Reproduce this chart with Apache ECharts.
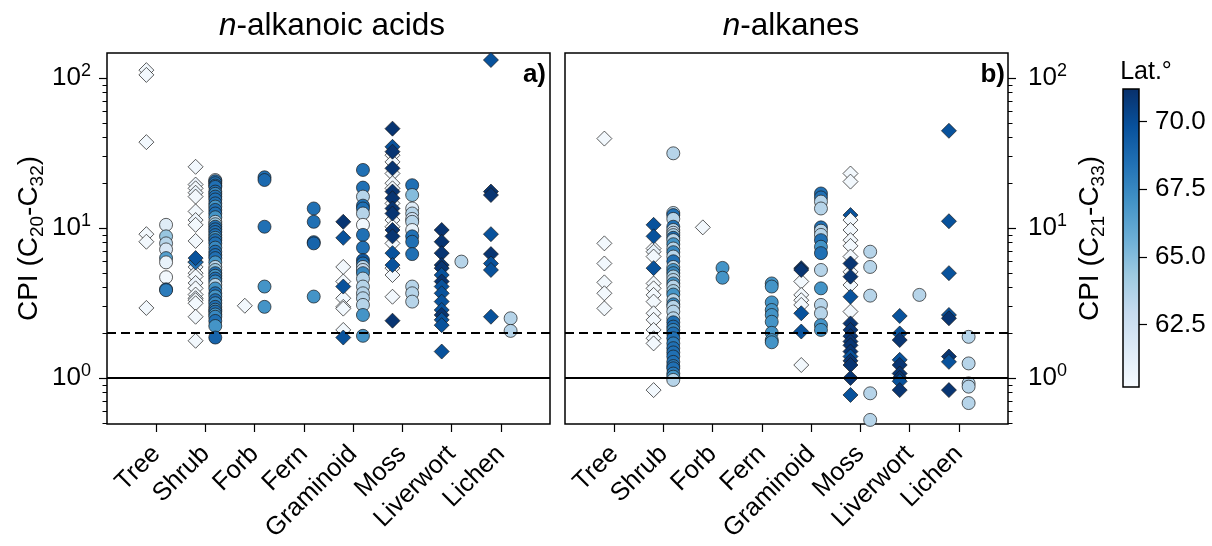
<!DOCTYPE html>
<html>
<head>
<meta charset="utf-8">
<script src="https://cdn.jsdelivr.net/npm/echarts@6/dist/echarts.min.js"></script>
<style>
  html, body { margin: 0; padding: 0; background: #fff; }
  #chart { width: 1212px; height: 546px; }
</style>
</head>
<body>
<div id="chart"></div>
<script>
var FONT = 'Liberation Sans';

// categories and scale ranges
var categories = ['Tree', 'Shrub', 'Forb', 'Fern', 'Graminoid', 'Moss', 'Liverwort', 'Lichen'];
var blues = ['#f7fbff', '#deebf7', '#c6dbef', '#9ecae1', '#6baed6', '#4292c6', '#2171b5', '#08519c', '#08306b'];
var latRange = [60.2, 71.2];
var latTicks = [62.5, 65, 67.5, 70];
var cpiRange = [0.493, 147];
var majorTicks = [1, 10, 100];
var minorTicks = [0.5, 0.6, 0.7, 0.8, 0.9, 2, 3, 4, 5, 6, 7, 8, 9, 20, 30, 40, 50, 60, 70, 80, 90];
var cpiLine = 1;
var cpiThreshold = 2;

// [category, CPI, latitude]
var acidsDiamonds = [
  ['Tree', 113, 60.5], ['Tree', 105, 60.5], ['Tree', 37.4, 60.5], ['Tree', 9.1, 60.5], ['Tree', 8.1, 60.5], ['Tree', 2.93, 60.5],
  ['Shrub', 25.6, 60.5], ['Shrub', 19.5, 60.8], ['Shrub', 18.4, 60.5], ['Shrub', 17.2, 61], ['Shrub', 16.2, 60.5],
  ['Shrub', 12.9, 60.5], ['Shrub', 11.3, 60.8], ['Shrub', 10.5, 60.5], ['Shrub', 8.2, 60.5], ['Shrub', 5.95, 60.5],
  ['Shrub', 5.5, 61], ['Shrub', 5.0, 60.5], ['Shrub', 4.75, 60.5], ['Shrub', 4.3, 60.8], ['Shrub', 3.96, 60.5],
  ['Shrub', 3.6, 60.5], ['Shrub', 3.4, 61], ['Shrub', 3.3, 60.5], ['Shrub', 3.15, 60.5], ['Shrub', 2.56, 60.5],
  ['Shrub', 1.77, 60.5], ['Shrub', 5.9, 68.5], ['Shrub', 6.3, 69.8],
  ['Forb', 3.03, 60.5],
  ['Graminoid', 5.5, 60.5], ['Graminoid', 4.4, 60.5], ['Graminoid', 3.4, 60.5], ['Graminoid', 2.98, 60.5],
  ['Graminoid', 2.9, 60.5], ['Graminoid', 2.09, 60.5], ['Graminoid', 11.0, 71], ['Graminoid', 8.6, 69.8],
  ['Graminoid', 4.07, 69.8], ['Graminoid', 1.86, 69.8],
  ['Moss', 30.6, 60.5], ['Moss', 27.6, 60.5], ['Moss', 23.1, 60.5], ['Moss', 19.9, 60.5], ['Moss', 18.4, 60.5],
  ['Moss', 14.6, 60.5], ['Moss', 11.3, 60.5], ['Moss', 10.2, 60.5], ['Moss', 7.9, 60.5], ['Moss', 5.4, 60.5],
  ['Moss', 4.86, 60.5], ['Moss', 3.48, 60.5],
  ['Moss', 46, 71], ['Moss', 34.8, 69.8], ['Moss', 32.3, 71], ['Moss', 25, 71], ['Moss', 17.5, 71], ['Moss', 15.8, 71],
  ['Moss', 13.5, 71], ['Moss', 12.5, 71], ['Moss', 9.7, 71], ['Moss', 8.8, 71], ['Moss', 6.8, 69.8], ['Moss', 5.66, 69.8],
  ['Moss', 2.41, 71],
  ['Liverwort', 9.7, 71], ['Liverwort', 8.1, 71], ['Liverwort', 6.8, 71], ['Liverwort', 5.66, 71], ['Liverwort', 5.4, 71],
  ['Liverwort', 4.86, 69.8], ['Liverwort', 4.4, 71], ['Liverwort', 4.07, 69.8], ['Liverwort', 3.67, 69.8],
  ['Liverwort', 3.23, 69.8], ['Liverwort', 2.84, 69.8], ['Liverwort', 2.63, 71], ['Liverwort', 2.44, 69.8],
  ['Liverwort', 2.25, 69.8], ['Liverwort', 1.5, 69.8],
  ['Lichen', 132, 69.8], ['Lichen', 17.5, 71], ['Lichen', 16.6, 71], ['Lichen', 9.1, 69.8], ['Lichen', 6.7, 71],
  ['Lichen', 5.8, 69.8], ['Lichen', 5.25, 69.8], ['Lichen', 2.56, 69.8]
];

var acidsCircles = [
  ['Tree', 10.5, 61.5], ['Tree', 8.8, 64.5], ['Tree', 7.9, 63.5], ['Tree', 7.2, 62], ['Tree', 6.3, 66.5],
  ['Tree', 5.9, 61], ['Tree', 4.7, 60.5], ['Tree', 3.9, 68.5], ['Tree', 3.85, 68],
  ['Shrub', 20.9, 63], ['Shrub', 20.5, 68.5], ['Shrub', 19.9, 68.5], ['Shrub', 19.2, 68.5], ['Shrub', 18.8, 68.5],
  ['Shrub', 17.5, 68.5], ['Shrub', 16.9, 67.5], ['Shrub', 16.2, 68.5], ['Shrub', 15.5, 68.5], ['Shrub', 14.6, 68.5],
  ['Shrub', 13.9, 67], ['Shrub', 13.2, 68.5], ['Shrub', 12.5, 68.5], ['Shrub', 11.8, 67], ['Shrub', 11.0, 63.5],
  ['Shrub', 10.6, 64.5], ['Shrub', 10.2, 68.5], ['Shrub', 9.8, 68.5], ['Shrub', 9.4, 68.5], ['Shrub', 8.97, 68.5],
  ['Shrub', 8.6, 67], ['Shrub', 8.3, 68.5], ['Shrub', 7.9, 68.5], ['Shrub', 7.4, 67.5], ['Shrub', 6.95, 68.5],
  ['Shrub', 6.6, 68.5], ['Shrub', 6.3, 68.5], ['Shrub', 5.9, 67], ['Shrub', 5.5, 63.5], ['Shrub', 5.25, 64.5],
  ['Shrub', 5.0, 68.5], ['Shrub', 4.8, 67], ['Shrub', 4.6, 68.5], ['Shrub', 4.4, 67.5], ['Shrub', 4.17, 63.5],
  ['Shrub', 3.95, 67], ['Shrub', 3.67, 68.5], ['Shrub', 3.5, 67], ['Shrub', 3.3, 68.5], ['Shrub', 3.15, 67.5],
  ['Shrub', 2.98, 68.5], ['Shrub', 2.85, 67], ['Shrub', 2.77, 68.5], ['Shrub', 2.65, 67], ['Shrub', 2.56, 67.5],
  ['Shrub', 2.4, 68.5], ['Shrub', 2.22, 67], ['Shrub', 1.86, 69],
  ['Forb', 21.8, 68.5], ['Forb', 20.9, 68.8], ['Forb', 10.2, 68.5], ['Forb', 4.07, 67], ['Forb', 2.98, 67],
  ['Fern', 13.5, 68.5], ['Fern', 11.0, 68.5], ['Fern', 8.05, 68.5], ['Fern', 7.9, 69], ['Fern', 3.49, 67],
  ['Graminoid', 24.4, 68.5], ['Graminoid', 18.6, 68.5], ['Graminoid', 16.2, 63.5], ['Graminoid', 14.1, 68.5],
  ['Graminoid', 13.5, 68.5], ['Graminoid', 12.5, 63.5], ['Graminoid', 10.5, 60.5], ['Graminoid', 9.0, 68.5],
  ['Graminoid', 7.4, 68.5], ['Graminoid', 6.1, 69.5], ['Graminoid', 5.8, 68.5], ['Graminoid', 5.5, 63.5],
  ['Graminoid', 5.25, 63], ['Graminoid', 5.0, 67.5], ['Graminoid', 4.6, 63.5], ['Graminoid', 4.07, 63.5],
  ['Graminoid', 3.67, 63.5], ['Graminoid', 3.4, 63.5], ['Graminoid', 3.07, 63.5], ['Graminoid', 2.63, 67],
  ['Graminoid', 1.91, 67],
  ['Moss', 19.3, 68.5], ['Moss', 16.6, 65], ['Moss', 13.5, 61.5], ['Moss', 12.5, 63.5], ['Moss', 11.5, 62.5],
  ['Moss', 11.0, 63.5], ['Moss', 9.7, 61], ['Moss', 8.8, 68.5], ['Moss', 8.1, 68.5], ['Moss', 6.7, 68.5],
  ['Moss', 4.07, 63.5], ['Moss', 3.67, 63.5], ['Moss', 3.23, 63.5],
  ['Liverwort', 5.97, 63.5],
  ['Lichen', 2.5, 63.5], ['Lichen', 2.06, 63.5]
];

var alkanesDiamonds = [
  ['Tree', 39.5, 60.5], ['Tree', 7.9, 60.5], ['Tree', 5.8, 60.5], ['Tree', 4.34, 60.5], ['Tree', 3.67, 60.5], ['Tree', 2.91, 60.5],
  ['Shrub', 7.3, 60.5], ['Shrub', 6.95, 61], ['Shrub', 6.45, 60.5], ['Shrub', 4.27, 60.5], ['Shrub', 3.96, 60.5],
  ['Shrub', 3.58, 60.5], ['Shrub', 3.23, 60.5], ['Shrub', 2.7, 60.5], ['Shrub', 2.44, 60.5], ['Shrub', 2.09, 60.5],
  ['Shrub', 1.84, 60.5], ['Shrub', 1.7, 60.5], ['Shrub', 0.83, 60.5],
  ['Shrub', 10.5, 69.8], ['Shrub', 8.8, 69.8], ['Shrub', 5.4, 69.8],
  ['Forb', 10.1, 60.5],
  ['Graminoid', 4.4, 60.5], ['Graminoid', 3.58, 60.5], ['Graminoid', 3.3, 60.5], ['Graminoid', 3.07, 60.5],
  ['Graminoid', 1.22, 60.5], ['Graminoid', 5.4, 71], ['Graminoid', 5.25, 71], ['Graminoid', 2.7, 69.8],
  ['Graminoid', 2.04, 69.8],
  ['Moss', 12.2, 69.8], ['Moss', 23.1, 60.5], ['Moss', 20.4, 60.5], ['Moss', 11.3, 60.5], ['Moss', 9.7, 60.5],
  ['Moss', 8.3, 60.5], ['Moss', 7.6, 60.5], ['Moss', 6.45, 60.5], ['Moss', 5.1, 60.5], ['Moss', 4.17, 60.5],
  ['Moss', 2.77, 60.5], ['Moss', 5.8, 71], ['Moss', 4.74, 71], ['Moss', 3.48, 69.8], ['Moss', 2.31, 71],
  ['Moss', 2.09, 71], ['Moss', 1.9, 71], ['Moss', 1.75, 71], ['Moss', 1.65, 71], ['Moss', 1.5, 71],
  ['Moss', 1.39, 69.8], ['Moss', 1.3, 71], ['Moss', 1.22, 71], ['Moss', 1.0, 71], ['Moss', 0.77, 69.8],
  ['Liverwort', 2.59, 69.8], ['Liverwort', 1.98, 69.8], ['Liverwort', 1.79, 71], ['Liverwort', 1.32, 69.8],
  ['Liverwort', 1.22, 71], ['Liverwort', 1.07, 71], ['Liverwort', 1.0, 71], ['Liverwort', 0.95, 69.8],
  ['Liverwort', 0.83, 71],
  ['Lichen', 44.5, 69.8], ['Lichen', 11.1, 69.8], ['Lichen', 5.0, 69.8], ['Lichen', 2.63, 69.8], ['Lichen', 2.5, 71],
  ['Lichen', 1.39, 71], ['Lichen', 1.28, 69.8], ['Lichen', 0.83, 71]
];

var alkanesCircles = [
  ['Shrub', 31.5, 63.5], ['Shrub', 12.6, 63.5], ['Shrub', 12.2, 68.5], ['Shrub', 11.5, 63.5], ['Shrub', 10.2, 68.5],
  ['Shrub', 9.7, 63.5], ['Shrub', 9.3, 63], ['Shrub', 8.97, 64], ['Shrub', 8.6, 68.5], ['Shrub', 8.3, 63.5],
  ['Shrub', 7.8, 67], ['Shrub', 7.3, 63.5], ['Shrub', 6.9, 67.5], ['Shrub', 6.45, 63.5], ['Shrub', 6.0, 68.5],
  ['Shrub', 5.5, 63.5], ['Shrub', 5.25, 67], ['Shrub', 5.0, 67.5], ['Shrub', 4.75, 64], ['Shrub', 4.5, 63.5],
  ['Shrub', 4.27, 67], ['Shrub', 4.07, 63.5], ['Shrub', 3.8, 64], ['Shrub', 3.6, 67], ['Shrub', 3.3, 63.5],
  ['Shrub', 3.1, 67.5], ['Shrub', 2.98, 63.5], ['Shrub', 2.77, 63.5], ['Shrub', 2.5, 63.5], ['Shrub', 2.35, 68.5],
  ['Shrub', 2.2, 68.5], ['Shrub', 2.09, 67.5], ['Shrub', 1.98, 68.5], ['Shrub', 1.84, 68.5], ['Shrub', 1.7, 68],
  ['Shrub', 1.58, 68.5], ['Shrub', 1.48, 68.5], ['Shrub', 1.39, 68.5], ['Shrub', 1.28, 68.5], ['Shrub', 1.2, 68],
  ['Shrub', 1.16, 68.5], ['Shrub', 1.07, 68], ['Shrub', 1.02, 67], ['Shrub', 0.97, 63.5],
  ['Forb', 5.42, 67], ['Forb', 4.66, 67],
  ['Fern', 4.27, 67], ['Fern', 4.07, 67], ['Fern', 3.19, 67], ['Fern', 2.84, 67], ['Fern', 2.63, 67],
  ['Fern', 2.37, 67], ['Fern', 2.0, 67], ['Fern', 1.79, 67], ['Fern', 1.73, 67],
  ['Graminoid', 17.0, 68.5], ['Graminoid', 16.0, 68.5], ['Graminoid', 15.0, 63.5], ['Graminoid', 13.5, 63.5],
  ['Graminoid', 10.1, 68.5], ['Graminoid', 9.6, 63.5], ['Graminoid', 9.0, 63.5], ['Graminoid', 8.3, 68.5],
  ['Graminoid', 7.5, 67], ['Graminoid', 6.8, 68.5], ['Graminoid', 5.25, 63.5], ['Graminoid', 3.96, 67],
  ['Graminoid', 3.07, 63.5], ['Graminoid', 2.7, 63.5], ['Graminoid', 2.25, 67], ['Graminoid', 2.09, 67],
  ['Moss', 6.95, 63.5], ['Moss', 5.5, 63.5], ['Moss', 3.54, 63.5], ['Moss', 0.79, 63.5], ['Moss', 0.525, 63.5],
  ['Liverwort', 3.58, 63.5],
  ['Lichen', 1.88, 63.5], ['Lichen', 1.25, 63.5], ['Lichen', 0.92, 63.5], ['Lichen', 0.875, 63.5], ['Lichen', 0.68, 63.5]
];

// diamonds sit left of the tick, circles right of it
function pts(rows, shift) {
  return rows.map(function (r) { return [categories.indexOf(r[0]) + shift, r[1], r[2]]; });
}

var catIdx = categories.map(function (c, i) { return i; });
var black = '#000';

function xAxisFor(g) {
  return {
    type: 'value', gridIndex: g, min: -1, max: 8,
    axisLine: {show: false, onZero: false}, splitLine: {show: false},
    axisTick: {customValues: catIdx, length: 8, lineStyle: {color: black, width: 1.2}},
    axisLabel: {
      customValues: catIdx, formatter: function (v) { return categories[v]; },
      rotate: 45, margin: 26, padding: [12, 0, 0, 0], fontSize: 25.5, color: black, fontFamily: FONT
    }
  };
}

function yMain(g, pos, name, gap, margin) {
  return {
    type: 'log', gridIndex: g, position: pos, min: cpiRange[0], max: cpiRange[1],
    axisLine: {show: false, onZero: false}, splitLine: {show: false},
    axisTick: {customValues: majorTicks, length: 8, lineStyle: {color: black, width: 1.2}},
    axisLabel: {
      customValues: majorTicks, margin: margin, fontSize: 26, color: black, fontFamily: FONT, lineHeight: 32,
      formatter: function (v) { return '10{s|' + Math.round(Math.log10(v)) + '}'; },
      rich: {s: {fontSize: 18, fontFamily: FONT, color: black, verticalAlign: 'top'}}
    },
    name: name, nameLocation: 'middle', nameRotate: 90, nameGap: gap,
    nameTextStyle: {
      fontSize: 28, color: black, fontFamily: FONT, lineHeight: 36,
      rich: {sub: {fontSize: 19, fontFamily: FONT, color: black, verticalAlign: 'bottom'}}
    }
  };
}

function yMinor(g, pos) {
  return {
    type: 'log', gridIndex: g, position: pos, min: cpiRange[0], max: cpiRange[1],
    axisLine: {show: false, onZero: false}, splitLine: {show: false}, axisLabel: {show: false},
    axisTick: {customValues: minorTicks, length: 4.5, lineStyle: {color: black, width: 1}}
  };
}

var markerStyle = {borderColor: '#1a1a1a', borderWidth: 0.7, opacity: 1};

function refLineSeries(xi, yi) {
  return {
    type: 'line', xAxisIndex: xi, yAxisIndex: yi, data: [], z: 1, silent: true,
    markLine: {
      silent: true, symbol: ['none', 'none'], label: {show: false},
      lineStyle: {color: black, width: 2},
      data: [
        {yAxis: cpiLine, lineStyle: {type: 'solid', color: black, width: 2}},
        {yAxis: cpiThreshold, lineStyle: {type: [9, 5], color: black, width: 2}}
      ]
    }
  };
}

var chart = echarts.init(document.getElementById('chart'));
chart.setOption({
  animation: false,
  backgroundColor: '#fff',
  textStyle: {fontFamily: FONT},
  title: [
    {text: '{i|n}-alkanoic acids', left: 327, top: 5, textAlign: 'center',
     textStyle: {fontSize: 31.5, fontWeight: 'normal', color: black, fontFamily: FONT,
       rich: {i: {fontSize: 31.5, fontStyle: 'italic', color: black, fontFamily: FONT}}}},
    {text: '{i|n}-alkanes', left: 786, top: 5, textAlign: 'center',
     textStyle: {fontSize: 31.5, fontWeight: 'normal', color: black, fontFamily: FONT,
       rich: {i: {fontSize: 31.5, fontStyle: 'italic', color: black, fontFamily: FONT}}}},
    {text: 'a)', left: 541, top: 57, textAlign: 'right',
     textStyle: {fontSize: 26, fontWeight: 'bold', color: black, fontFamily: FONT}},
    {text: 'b)', left: 1000, top: 57, textAlign: 'right',
     textStyle: {fontSize: 26, fontWeight: 'bold', color: black, fontFamily: FONT}},
    {text: 'Lat.°', left: 1141, top: 55, textAlign: 'center',
     textStyle: {fontSize: 25, fontWeight: 'normal', color: black, fontFamily: FONT}}
  ],
  grid: [
    {left: 107, top: 53, width: 443, height: 371, show: true, borderColor: black, borderWidth: 1.5},
    {left: 565, top: 53, width: 443, height: 371, show: true, borderColor: black, borderWidth: 1.5},
    {left: 1123, top: 89, width: 16, height: 298, show: true, borderColor: black, borderWidth: 1.5, z: 5}
  ],
  xAxis: [
    xAxisFor(0),
    xAxisFor(1),
    {type: 'value', gridIndex: 2, min: 0, max: 1, show: false}
  ],
  yAxis: [
    yMain(0, 'left', 'CPI (C{sub|20}-C{sub|32})', 60, 16),
    yMinor(0, 'left'),
    yMain(1, 'right', 'CPI (C{sub|21}-C{sub|33})', 64, 20),
    yMinor(1, 'right'),
    {
      type: 'value', gridIndex: 2, position: 'right', min: latRange[0], max: latRange[1],
      axisLine: {show: false, onZero: false}, splitLine: {show: false},
      axisTick: {customValues: latTicks, length: 8, lineStyle: {color: black, width: 1.2}},
      axisLabel: {customValues: latTicks, formatter: function (v) { return v.toFixed(1); },
        margin: 16, fontSize: 26, color: black, fontFamily: FONT}
    }
  ],
  visualMap: {
    type: 'continuous', show: false, min: latRange[0], max: latRange[1],
    dimension: 2, seriesIndex: [0, 1, 2, 3], inRange: {color: blues}
  },
  series: [
    {type: 'scatter', xAxisIndex: 0, yAxisIndex: 0, symbol: 'diamond', symbolSize: 15,
     data: pts(acidsDiamonds, -0.2), itemStyle: markerStyle, z: 3},
    {type: 'scatter', xAxisIndex: 0, yAxisIndex: 0, symbol: 'circle', symbolSize: 13,
     data: pts(acidsCircles, 0.2), itemStyle: markerStyle, z: 3},
    {type: 'scatter', xAxisIndex: 1, yAxisIndex: 2, symbol: 'diamond', symbolSize: 15,
     data: pts(alkanesDiamonds, -0.2), itemStyle: markerStyle, z: 3},
    {type: 'scatter', xAxisIndex: 1, yAxisIndex: 2, symbol: 'circle', symbolSize: 13,
     data: pts(alkanesCircles, 0.2), itemStyle: markerStyle, z: 3},
    refLineSeries(0, 0),
    refLineSeries(1, 2),
    {
      type: 'scatter', xAxisIndex: 2, yAxisIndex: 4, data: [], silent: true,
      markArea: {
        silent: true,
        itemStyle: {
          opacity: 1,
          color: new echarts.graphic.LinearGradient(0, 1, 0, 0,
            blues.map(function (c, i) { return {offset: i / (blues.length - 1), color: c}; }))
        },
        data: [[{xAxis: 0, yAxis: latRange[0]}, {xAxis: 1, yAxis: latRange[1]}]]
      }
    }
  ]
});
</script>
</body>
</html>
